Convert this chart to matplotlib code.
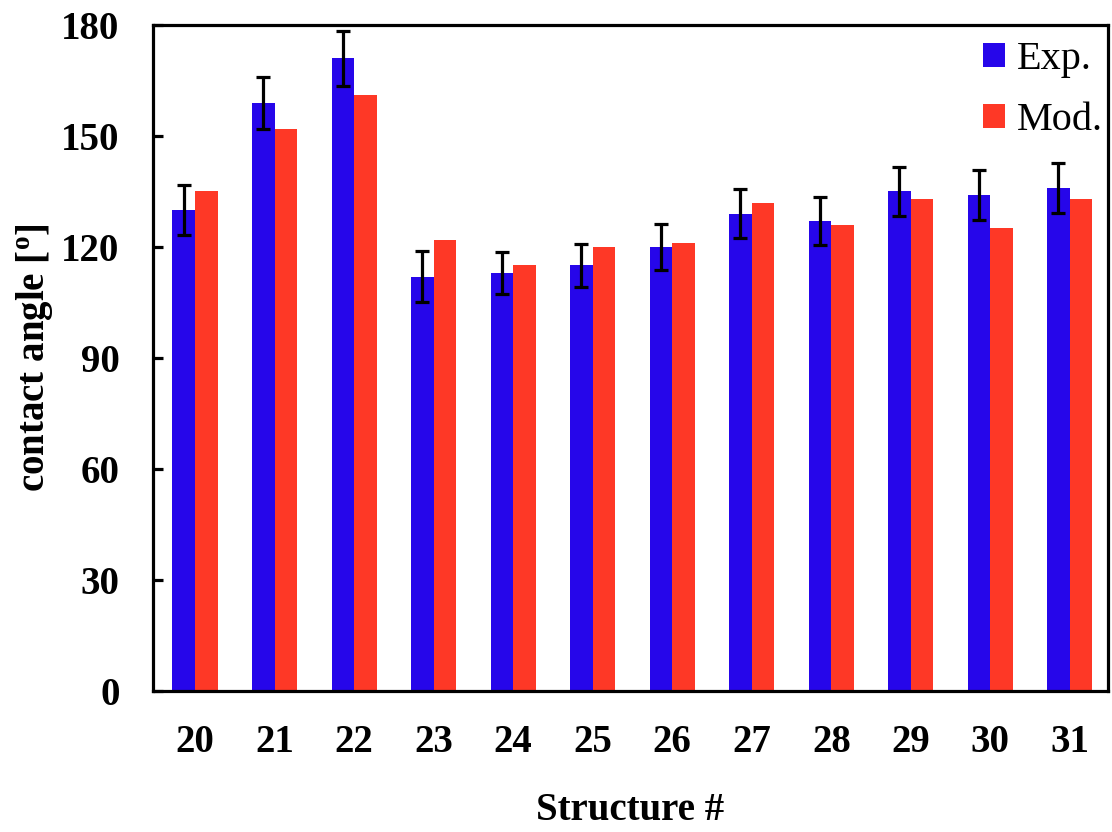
import matplotlib
matplotlib.use("Agg")
import matplotlib.pyplot as plt
import numpy as np

structures = ["20", "21", "22", "23", "24", "25", "26", "27", "28", "29", "30", "31"]
exp_angle = [130, 159, 171, 112, 113, 115, 120, 129, 127, 135, 134, 136]
exp_err = [6.7, 7.0, 7.5, 6.8, 5.7, 5.8, 6.2, 6.6, 6.4, 6.7, 6.7, 6.8]
mod_angle = [135, 152, 161, 122, 115, 120, 121, 132, 126, 133, 125, 133]

plt.rcParams["font.family"] = "Liberation Serif"
plt.rcParams["mathtext.fontset"] = "custom"
plt.rcParams["mathtext.rm"] = "Liberation Serif:bold"

fig = plt.figure(figsize=(11.12, 8.32), dpi=100)
ax = fig.add_axes([0.1376, 0.1695, 0.8588, 0.8005])

x = np.arange(len(structures))
w = 0.285
ax.bar(x - w / 2, exp_angle, w, color="#2606ea", label="Exp.",
       yerr=exp_err, error_kw=dict(ecolor="black", elinewidth=2.3, capsize=5, capthick=2.3))
ax.bar(x + w / 2, mod_angle, w, color="#fe3826", label="Mod.")

ax.set_xlim(-0.53, 11.48)
ax.set_ylim(0, 180)
ax.set_yticks(range(0, 181, 30))
ax.set_xticks(x)
ax.set_xticklabels(structures)

for s in ax.spines.values():
    s.set_linewidth(2.3)
ax.tick_params(axis="y", direction="in", length=7, width=2.3, pad=24, labelsize=28)
ax.tick_params(axis="x", length=0, pad=24, labelsize=28)
for lbl in ax.get_xticklabels() + ax.get_yticklabels():
    lbl.set_fontweight("bold")

ax.set_ylabel(r"contact angle [$^{\rm o}$]", fontsize=28, fontweight="bold", labelpad=4)
ax.set_xlabel("Structure #", fontsize=28, fontweight="bold", labelpad=22)

ax.legend(loc="upper right", bbox_to_anchor=(1.001, 0.985), frameon=False,
          fontsize=29, handlelength=0.53, handleheight=0.53, handletextpad=0.3,
          labelspacing=0.6, borderaxespad=0.0, borderpad=0.15)

fig.savefig("out.png", dpi=100)
